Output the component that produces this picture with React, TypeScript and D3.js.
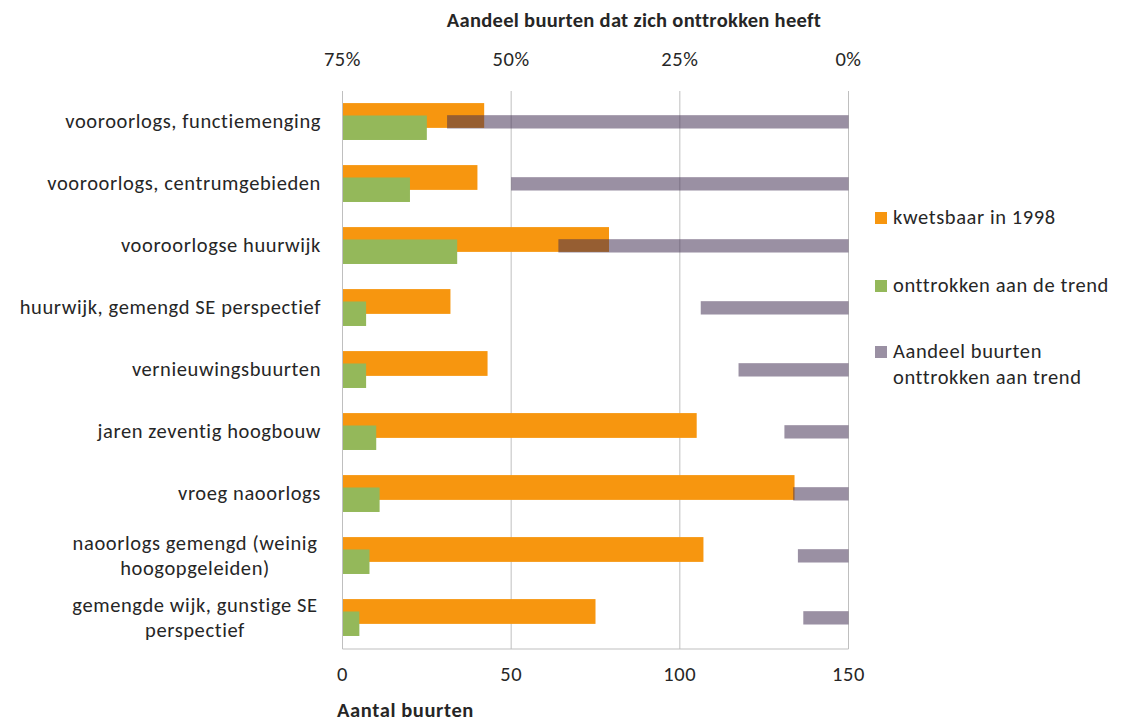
import React from "react";
import * as d3 from "d3";

const categories = [
  "vooroorlogs, functiemenging",
  "vooroorlogs, centrumgebieden",
  "vooroorlogse huurwijk",
  "huurwijk, gemengd SE perspectief",
  "vernieuwingsbuurten",
  "jaren zeventig hoogbouw",
  "vroeg naoorlogs",
  "naoorlogs gemengd (weinig|hoogopgeleiden)",
  "gemengde wijk, gunstige SE|perspectief",
];
const kwetsbaar = [42, 40, 79, 32, 43, 105, 134, 107, 75];
const onttrokken = [25, 20, 34, 7, 7, 10, 11, 8, 5];
const aandeel = [59.5, 50, 43, 21.9, 16.3, 9.5, 8.2, 7.5, 6.7];
const countTicks = [0, 50, 100, 150];
const pctTicks = [75, 50, 25, 0];

const legendItems = [
  { label: ["kwetsbaar in 1998"], color: "#F7960F", opacity: 1 },
  { label: ["onttrokken aan de trend"], color: "#94B85A", opacity: 1 },
  { label: ["Aandeel buurten", "onttrokken aan trend"], color: "#402D51", opacity: 0.53 },
];

const FONT = "Carlito, Lato, 'Open Sans', sans-serif";

export default function App() {
  const W = 1125, H = 722;
  const left = 342.5, right = 848.5, top = 91, bottom = 649;
  const x = d3.scaleLinear().domain([0, 150]).range([left, right]);
  const xp = d3.scaleLinear().domain([75, 0]).range([left, right]);
  const y = d3.scaleBand().domain(categories).range([top, bottom]);
  const bw = y.bandwidth();
  const grid = "#BFBFBF";
  const text = "#262626";
  const fs = 20.5;
  const ls = 0.6;

  return (
    <svg width={W} height={H} style={{ position: "absolute", left: 0, top: 0, background: "#fff" }} fontFamily={FONT} letterSpacing={ls}>
      {/* gridlines */}
      {countTicks.slice(1).map((t) => (
        <line key={t} x1={x(t)} x2={x(t)} y1={top} y2={bottom} stroke={grid} strokeWidth={1} />
      ))}
      {/* bars */}
      {categories.map((c, i) => (
        <g key={c}>
          <rect x={x(0)} y={y(c)! + bw * 0.195} width={x(kwetsbaar[i]) - x(0)} height={bw * 0.4} fill="#F7960F" />
          <rect x={x(0)} y={y(c)! + bw * 0.395} width={x(onttrokken[i]) - x(0)} height={bw * 0.395} fill="#94B85A" />
          <rect x={xp(aandeel[i])} y={y(c)! + bw * 0.39} width={xp(0) - xp(aandeel[i])} height={bw * 0.215} fill="#402D51" fillOpacity={0.53} />
        </g>
      ))}
      {/* axes */}
      <line x1={left} x2={left} y1={top} y2={bottom} stroke={grid} />
      <line x1={left} x2={right} y1={bottom} y2={bottom} stroke={grid} />
      {/* category labels */}
      {categories.map((c) => {
        const lines = c.split("|");
        const cy = y(c)! + bw / 2;
        if (lines.length === 1) {
          return (
            <text key={c} x={321} y={cy + 6} textAnchor="end" fontSize={fs} fill={text}>{c}</text>
          );
        }
        return (
          <text key={c} textAnchor="middle" fontSize={fs} fill={text}>
            {lines.map((l, j) => (
              <tspan key={j} x={195} y={cy + 6 + (j - 0.5) * 25}>{l}</tspan>
            ))}
          </text>
        );
      })}
      {/* bottom ticks */}
      {countTicks.map((t) => (
        <text key={t} x={x(t)} y={681} textAnchor="middle" fontSize={fs} fill={text}>{t}</text>
      ))}
      <text x={337} y={717} textAnchor="start" fontSize={fs} fontWeight="bold" fill={text}>Aantal buurten</text>
      {/* top ticks */}
      {pctTicks.map((t) => (
        <text key={t} x={xp(t)} y={66} textAnchor="middle" fontSize={fs} fill={text}>{t + "%"}</text>
      ))}
      <text x={634} y={27} textAnchor="middle" fontSize={fs} fontWeight="bold" fill={text} letterSpacing={0.3}>Aandeel buurten dat zich onttrokken heeft</text>
      {/* legend */}
      {legendItems.map((it, i) => {
        const ly = [218, 286, 352][i];
        return (
          <g key={i}>
            <rect x={875} y={ly - 6} width={12} height={12} fill={it.color} fillOpacity={it.opacity} />
            {it.label.map((l, j) => (
              <text key={j} x={893} y={ly + 6 + j * 26} fontSize={fs} fill={text}>{l}</text>
            ))}
          </g>
        );
      })}
    </svg>
  );
}
